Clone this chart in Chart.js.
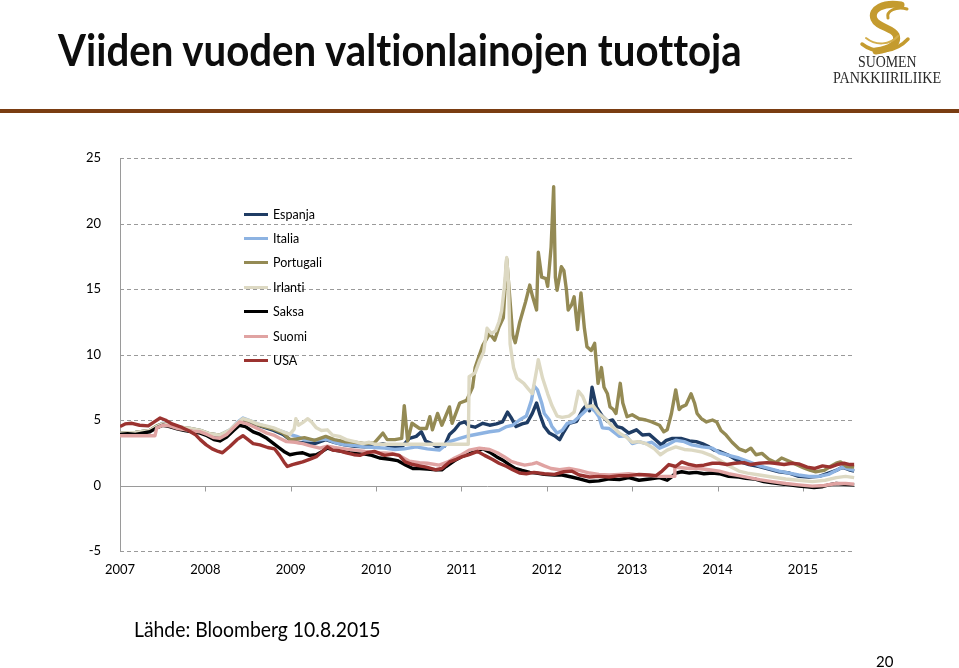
<!DOCTYPE html>
<html><head><meta charset="utf-8">
<script src="https://cdn.jsdelivr.net/npm/chart.js@4/dist/chart.umd.min.js"></script>
<style>
html,body{margin:0;padding:0;background:#fff;}
body{width:959px;height:668px;position:relative;overflow:hidden;font-family:Lato,sans-serif;font-variant-ligatures:none;font-feature-settings:"liga" 0;}
#c{position:absolute;left:0;top:0;}
.fit{position:absolute;white-space:nowrap;transform-origin:0 0;}
#title{left:58px;top:28px;font-size:43px;font-weight:700;line-height:43px;color:#0d0d0d;}
#rule{position:absolute;left:0;top:109px;width:959px;height:4px;background:#7a3d12;}
#source{left:134px;top:618px;font-size:21px;line-height:21px;color:#000;}
#page{left:876px;top:654px;font-size:15px;line-height:15px;color:#000;}
.logo-t{font-family:"Liberation Serif",serif;font-size:16px;line-height:16px;color:#2a2a2a;}
#legend{position:absolute;left:240px;top:204px;}
.leg{position:absolute;left:0;height:20px;display:flex;align-items:center;font-size:12.5px;color:#000;white-space:nowrap;}
.sw{display:inline-block;width:24px;height:3px;margin-left:4px;margin-right:5px;}
</style></head>
<body>
<canvas id="c" width="959" height="668"></canvas>
<div id="title" class="fit" data-w="684">Viiden vuoden valtionlainojen tuottoja</div>
<svg style="position:absolute;left:846px;top:0" width="80" height="58" viewBox="0 0 80 58">
  <path d="M55 5 C38 2 24 9 28 19 C31 27 47 28 50 35 C53 43 45 49 30 51" fill="none" stroke="#c49b2f" stroke-width="7" stroke-linecap="round"/>
  <path d="M61 9 C50 6 40 11 42 18" fill="none" stroke="#c49b2f" stroke-width="3" stroke-linecap="round"/>
  <path d="M16 44 C30 55 50 52 62 39" fill="none" stroke="#c49b2f" stroke-width="3.5" stroke-linecap="round"/>
  <path d="M20 38 C30 46 44 45 52 36" fill="none" stroke="#d3ae4c" stroke-width="2" stroke-linecap="round"/>
</svg>
<div id="logo1" class="fit logo-t" data-w="59" data-cx="887" style="top:54px">SUOMEN</div>
<div id="logo2" class="fit logo-t" data-w="108" data-cx="887" style="top:70px">PANKKIIRILIIKE</div>
<div id="rule"></div>
<div id="legend"></div>
<div id="source" class="fit" data-w="247">Lähde: Bloomberg 10.8.2015</div>
<div id="page" class="fit">20</div>
<script>
// ---- data (decimal year, yield %) ----
const seriesNames = ['Espanja','Italia','Portugali','Irlanti','Saksa','Suomi','USA'];
const yearLabels = ['2007','2008','2009','2010','2011','2012','2013','2014','2015'];

const espanja = [[2007.00,4.0],[2007.18,4.05],[2007.35,4.2],[2007.43,4.5],[2007.50,4.7],[2007.61,4.6],[2007.70,4.4],[2007.82,4.3],[2007.94,4.15],[2008.05,3.85],[2008.17,3.75],[2008.29,4.1],[2008.37,4.6],[2008.44,5.0],[2008.52,4.8],[2008.61,4.6],[2008.71,4.4],[2008.80,4.2],[2008.91,3.9],[2008.99,3.5],[2009.07,3.3],[2009.16,3.25],[2009.28,3.2],[2009.41,3.5],[2009.51,3.3],[2009.63,3.1],[2009.75,3.0],[2009.87,2.95],[2009.98,3.0],[2010.08,3.2],[2010.19,2.95],[2010.31,3.0],[2010.39,3.6],[2010.47,3.75],[2010.53,4.1],[2010.58,3.4],[2010.65,3.2],[2010.71,2.95],[2010.80,3.0],[2010.86,3.9],[2010.92,4.25],[2010.98,4.75],[2011.04,4.85],[2011.09,4.55],[2011.16,4.45],[2011.25,4.75],[2011.33,4.6],[2011.41,4.7],[2011.48,4.85],[2011.54,5.6],[2011.58,5.2],[2011.64,4.5],[2011.71,4.7],[2011.77,4.8],[2011.83,5.5],[2011.88,6.3],[2011.92,5.4],[2011.97,4.5],[2012.03,4.0],[2012.09,3.8],[2012.15,3.5],[2012.20,4.1],[2012.26,4.75],[2012.35,4.9],[2012.42,5.8],[2012.46,6.1],[2012.50,5.7],[2012.53,7.5],[2012.58,6.0],[2012.61,5.7],[2012.65,5.3],[2012.71,4.9],[2012.77,5.0],[2012.82,4.5],[2012.88,4.4],[2012.96,4.0],[2013.05,4.25],[2013.12,3.85],[2013.20,3.9],[2013.28,3.45],[2013.34,3.1],[2013.40,3.45],[2013.47,3.6],[2013.57,3.6],[2013.67,3.4],[2013.75,3.35],[2013.82,3.2],[2013.90,2.95],[2013.96,2.7],[2014.02,2.6],[2014.13,2.3],[2014.25,1.85],[2014.37,1.6],[2014.49,1.45],[2014.60,1.25],[2014.72,1.05],[2014.84,0.95],[2014.95,0.7],[2015.07,0.65],[2015.19,0.7],[2015.30,0.95],[2015.39,1.15],[2015.46,1.4],[2015.54,1.2],[2015.60,1.1]];

const italia = [[2007.00,3.95],[2007.18,4.0],[2007.35,4.15],[2007.43,4.5],[2007.50,4.75],[2007.61,4.65],[2007.70,4.45],[2007.82,4.35],[2007.94,4.2],[2008.05,3.95],[2008.17,3.85],[2008.29,4.25],[2008.37,4.8],[2008.44,5.15],[2008.52,4.95],[2008.61,4.7],[2008.71,4.5],[2008.80,4.35],[2008.91,4.1],[2008.99,3.9],[2009.07,3.75],[2009.16,3.5],[2009.28,3.45],[2009.41,3.55],[2009.51,3.3],[2009.63,3.1],[2009.75,3.05],[2009.87,2.95],[2009.98,2.9],[2010.10,2.85],[2010.22,2.75],[2010.33,2.8],[2010.47,2.95],[2010.60,2.8],[2010.74,2.7],[2010.86,3.35],[2010.98,3.6],[2011.09,3.8],[2011.21,3.95],[2011.33,4.1],[2011.44,4.2],[2011.53,4.5],[2011.60,4.6],[2011.68,5.0],[2011.76,5.3],[2011.82,6.5],[2011.85,7.6],[2011.89,7.3],[2011.94,6.3],[2011.97,5.5],[2012.03,5.0],[2012.06,4.5],[2012.12,4.0],[2012.18,4.2],[2012.24,4.75],[2012.32,4.9],[2012.42,5.5],[2012.50,6.0],[2012.56,5.7],[2012.61,5.25],[2012.65,4.4],[2012.73,4.35],[2012.85,3.75],[2012.93,3.8],[2013.00,3.2],[2013.08,3.35],[2013.16,3.2],[2013.23,3.3],[2013.32,2.85],[2013.41,3.1],[2013.51,3.45],[2013.61,3.35],[2013.70,3.1],[2013.82,2.95],[2013.94,2.85],[2014.02,2.5],[2014.13,2.3],[2014.25,2.1],[2014.37,1.8],[2014.49,1.5],[2014.60,1.3],[2014.72,1.1],[2014.84,0.95],[2014.95,0.8],[2015.07,0.7],[2015.19,0.7],[2015.30,0.85],[2015.39,1.15],[2015.46,1.4],[2015.54,1.25],[2015.60,1.15]];

const portugali = [[2007.00,4.0],[2007.18,4.05],[2007.35,4.2],[2007.43,4.55],[2007.50,4.7],[2007.61,4.6],[2007.70,4.45],[2007.82,4.35],[2007.94,4.2],[2008.05,3.95],[2008.17,3.85],[2008.29,4.2],[2008.37,4.7],[2008.44,5.05],[2008.52,4.9],[2008.61,4.65],[2008.71,4.45],[2008.80,4.3],[2008.91,4.0],[2008.99,3.5],[2009.07,3.55],[2009.16,3.65],[2009.28,3.45],[2009.41,3.75],[2009.51,3.5],[2009.63,3.35],[2009.75,3.3],[2009.87,3.2],[2009.98,3.25],[2010.08,4.0],[2010.13,3.5],[2010.22,3.5],[2010.30,3.6],[2010.33,6.1],[2010.37,3.4],[2010.42,4.75],[2010.51,4.35],[2010.59,4.35],[2010.63,5.25],[2010.66,4.25],[2010.72,5.5],[2010.77,4.6],[2010.86,6.0],[2010.89,4.75],[2010.98,6.3],[2011.06,6.5],[2011.13,7.5],[2011.16,9.0],[2011.25,10.7],[2011.33,11.6],[2011.39,11.1],[2011.44,12.1],[2011.49,12.8],[2011.53,17.3],[2011.57,14.0],[2011.60,11.5],[2011.63,10.9],[2011.68,12.4],[2011.75,14.0],[2011.80,15.3],[2011.83,14.5],[2011.88,13.4],[2011.90,17.8],[2011.94,15.9],[2011.99,15.8],[2012.01,15.2],[2012.05,18.2],[2012.08,22.8],[2012.10,15.9],[2012.12,14.9],[2012.17,16.7],[2012.20,16.4],[2012.23,14.9],[2012.25,13.4],[2012.29,13.8],[2012.32,14.4],[2012.36,11.9],[2012.40,14.7],[2012.44,12.0],[2012.47,10.6],[2012.52,10.3],[2012.56,10.85],[2012.60,7.8],[2012.64,9.0],[2012.67,7.5],[2012.71,7.0],[2012.74,6.0],[2012.78,5.8],[2012.81,5.5],[2012.86,7.8],[2012.89,6.3],[2012.94,5.25],[2013.00,5.4],[2013.08,5.1],[2013.16,5.0],[2013.23,4.85],[2013.32,4.6],[2013.37,4.1],[2013.41,4.25],[2013.46,5.5],[2013.51,7.3],[2013.55,5.8],[2013.58,6.0],[2013.63,6.15],[2013.69,7.0],[2013.73,6.3],[2013.76,5.5],[2013.81,5.1],[2013.87,4.85],[2013.94,5.0],[2013.99,4.85],[2014.04,4.2],[2014.10,3.85],[2014.17,3.3],[2014.25,2.8],[2014.33,2.6],[2014.39,2.85],[2014.45,2.35],[2014.52,2.45],[2014.60,2.0],[2014.68,1.75],[2014.75,2.1],[2014.84,1.85],[2014.92,1.6],[2015.01,1.35],[2015.09,1.15],[2015.15,1.05],[2015.25,1.15],[2015.32,1.45],[2015.39,1.7],[2015.44,1.8],[2015.51,1.45],[2015.60,1.4]];

const irlanti = [[2007.00,4.0],[2007.18,4.05],[2007.35,4.2],[2007.43,4.5],[2007.50,4.7],[2007.61,4.6],[2007.70,4.45],[2007.82,4.35],[2007.94,4.2],[2008.05,3.95],[2008.17,3.85],[2008.29,4.25],[2008.37,4.75],[2008.44,5.1],[2008.52,4.95],[2008.61,4.7],[2008.71,4.55],[2008.80,4.4],[2008.91,4.1],[2008.99,3.9],[2009.04,4.3],[2009.06,5.1],[2009.09,4.6],[2009.14,4.8],[2009.20,5.1],[2009.25,4.8],[2009.30,4.4],[2009.36,4.2],[2009.43,4.25],[2009.49,3.85],[2009.57,3.75],[2009.65,3.5],[2009.75,3.35],[2009.84,3.2],[2009.92,3.3],[2009.98,3.15],[2011.08,3.15],[2011.09,8.3],[2011.16,8.6],[2011.21,9.5],[2011.26,10.2],[2011.30,12.0],[2011.35,11.6],[2011.40,11.8],[2011.44,12.5],[2011.47,13.3],[2011.50,15.0],[2011.53,17.4],[2011.55,15.5],[2011.57,10.8],[2011.61,9.0],[2011.65,8.2],[2011.73,7.8],[2011.78,7.4],[2011.83,7.0],[2011.88,8.8],[2011.90,9.6],[2011.95,8.2],[2012.01,7.0],[2012.06,6.1],[2012.12,5.3],[2012.18,5.2],[2012.26,5.3],[2012.32,5.6],[2012.37,7.2],[2012.42,6.8],[2012.47,6.0],[2012.54,6.1],[2012.61,5.5],[2012.70,5.0],[2012.77,4.5],[2012.85,4.0],[2012.93,3.7],[2013.00,3.3],[2013.08,3.35],[2013.16,3.2],[2013.26,2.8],[2013.33,2.35],[2013.41,2.7],[2013.51,2.95],[2013.61,2.75],[2013.70,2.7],[2013.82,2.55],[2013.92,2.3],[2014.02,1.95],[2014.13,1.5],[2014.25,1.1],[2014.35,0.95],[2014.49,0.8],[2014.64,0.65],[2014.80,0.5],[2014.95,0.4],[2015.11,0.3],[2015.26,0.4],[2015.39,0.6],[2015.50,0.7],[2015.60,0.6]];

const saksa = [[2007.00,3.9],[2007.09,3.95],[2007.18,3.9],[2007.26,4.0],[2007.35,4.1],[2007.43,4.4],[2007.50,4.6],[2007.58,4.5],[2007.68,4.3],[2007.76,4.2],[2007.85,4.1],[2007.94,4.0],[2008.02,3.8],[2008.10,3.5],[2008.17,3.4],[2008.25,3.7],[2008.33,4.2],[2008.40,4.6],[2008.47,4.5],[2008.56,4.1],[2008.64,3.9],[2008.72,3.6],[2008.80,3.2],[2008.86,2.9],[2008.92,2.6],[2008.99,2.35],[2009.07,2.45],[2009.14,2.5],[2009.22,2.3],[2009.30,2.35],[2009.37,2.6],[2009.43,2.85],[2009.51,2.7],[2009.60,2.6],[2009.69,2.5],[2009.77,2.45],[2009.87,2.4],[2009.95,2.3],[2010.04,2.1],[2010.16,2.0],[2010.25,1.9],[2010.35,1.55],[2010.43,1.3],[2010.51,1.3],[2010.60,1.25],[2010.70,1.2],[2010.77,1.2],[2010.82,1.45],[2010.92,1.9],[2011.00,2.2],[2011.07,2.35],[2011.15,2.6],[2011.25,2.8],[2011.33,2.55],[2011.41,2.2],[2011.48,1.95],[2011.56,1.6],[2011.63,1.3],[2011.71,1.15],[2011.80,1.0],[2011.88,0.95],[2011.97,0.85],[2012.09,0.8],[2012.18,0.8],[2012.29,0.65],[2012.38,0.5],[2012.50,0.3],[2012.61,0.35],[2012.73,0.5],[2012.85,0.45],[2012.96,0.6],[2013.08,0.4],[2013.20,0.5],[2013.32,0.6],[2013.41,0.4],[2013.47,0.7],[2013.51,0.95],[2013.58,1.05],[2013.67,0.95],[2013.75,1.0],[2013.84,0.9],[2013.94,0.95],[2014.02,0.9],[2014.13,0.7],[2014.25,0.65],[2014.33,0.55],[2014.43,0.5],[2014.54,0.3],[2014.64,0.2],[2014.78,0.1],[2014.95,-0.05],[2015.05,-0.1],[2015.13,-0.15],[2015.22,-0.1],[2015.30,0.05],[2015.39,0.15],[2015.48,0.1],[2015.60,0.05]];

const suomi = [[2007.00,3.8],[2007.41,3.8],[2007.43,4.4],[2007.50,4.6],[2007.58,4.55],[2007.68,4.35],[2007.77,4.25],[2007.85,4.15],[2007.94,4.1],[2008.02,3.9],[2008.10,3.65],[2008.17,3.6],[2008.25,3.9],[2008.33,4.4],[2008.40,4.85],[2008.49,4.7],[2008.56,4.5],[2008.64,4.25],[2008.72,4.0],[2008.80,3.85],[2008.87,3.6],[2008.95,3.35],[2009.05,3.3],[2009.14,3.2],[2009.22,3.05],[2009.34,2.85],[2009.43,3.0],[2009.51,2.9],[2009.63,2.8],[2009.75,2.7],[2009.87,2.6],[2009.95,2.55],[2010.04,2.5],[2010.19,2.45],[2010.27,2.3],[2010.39,1.85],[2010.51,1.75],[2010.60,1.7],[2010.74,1.55],[2010.84,1.8],[2010.92,2.1],[2011.00,2.35],[2011.09,2.7],[2011.21,2.85],[2011.33,2.75],[2011.42,2.5],[2011.50,2.2],[2011.58,1.85],[2011.65,1.7],[2011.74,1.55],[2011.83,1.65],[2011.88,1.75],[2011.97,1.5],[2012.05,1.3],[2012.15,1.2],[2012.26,1.3],[2012.38,1.15],[2012.50,0.95],[2012.61,0.85],[2012.73,0.8],[2012.85,0.85],[2012.96,0.9],[2013.08,0.8],[2013.20,0.75],[2013.32,0.7],[2013.49,0.7],[2013.50,1.4],[2013.58,1.35],[2013.67,1.3],[2013.78,1.3],[2013.90,1.2],[2014.02,1.1],[2014.13,0.9],[2014.25,0.75],[2014.37,0.6],[2014.49,0.45],[2014.64,0.3],[2014.80,0.15],[2014.95,0.05],[2015.11,-0.05],[2015.25,0.0],[2015.39,0.15],[2015.50,0.15],[2015.60,0.1]];

const usa = [[2007.00,4.5],[2007.06,4.7],[2007.14,4.75],[2007.23,4.6],[2007.33,4.55],[2007.41,4.9],[2007.47,5.15],[2007.53,5.0],[2007.61,4.7],[2007.70,4.5],[2007.80,4.2],[2007.88,3.9],[2007.94,3.5],[2008.01,3.1],[2008.08,2.8],[2008.15,2.6],[2008.20,2.5],[2008.29,3.0],[2008.37,3.5],[2008.44,3.8],[2008.50,3.5],[2008.56,3.2],[2008.64,3.1],[2008.73,2.9],[2008.81,2.8],[2008.87,2.3],[2008.92,1.8],[2008.96,1.45],[2009.02,1.6],[2009.08,1.7],[2009.14,1.8],[2009.22,2.0],[2009.30,2.2],[2009.37,2.6],[2009.43,2.95],[2009.49,2.7],[2009.57,2.65],[2009.65,2.5],[2009.74,2.35],[2009.81,2.3],[2009.89,2.5],[2009.98,2.6],[2010.10,2.3],[2010.19,2.4],[2010.27,2.3],[2010.34,1.8],[2010.43,1.6],[2010.51,1.5],[2010.59,1.4],[2010.70,1.2],[2010.77,1.3],[2010.86,1.8],[2010.94,2.0],[2011.01,2.2],[2011.09,2.35],[2011.19,2.6],[2011.27,2.3],[2011.36,2.0],[2011.44,1.7],[2011.53,1.45],[2011.60,1.2],[2011.68,0.95],[2011.76,0.9],[2011.85,1.0],[2011.97,0.9],[2012.09,0.85],[2012.20,1.05],[2012.29,1.1],[2012.38,0.8],[2012.50,0.65],[2012.61,0.7],[2012.73,0.65],[2012.85,0.75],[2012.96,0.75],[2013.08,0.85],[2013.20,0.8],[2013.28,0.75],[2013.35,1.1],[2013.43,1.6],[2013.51,1.45],[2013.58,1.8],[2013.67,1.6],[2013.75,1.5],[2013.84,1.55],[2013.94,1.7],[2014.02,1.7],[2014.11,1.6],[2014.20,1.7],[2014.31,1.75],[2014.39,1.6],[2014.49,1.7],[2014.58,1.75],[2014.67,1.7],[2014.78,1.6],[2014.87,1.7],[2014.95,1.65],[2015.05,1.4],[2015.14,1.3],[2015.23,1.5],[2015.32,1.4],[2015.40,1.6],[2015.48,1.7],[2015.55,1.6],[2015.60,1.6]];

const allSeries = [espanja, italia, portugali, irlanti, saksa, suomi, usa];
const colors = ['#1f3c64','#8db3e2','#948a54','#ddd9c3','#000000','#e0a3a2','#9b3330'];

// ---- layout helpers ----
function fitAll(){
  document.querySelectorAll('.fit').forEach(el=>{
    const tw = +el.dataset.w;
    if(tw){
      const w = el.scrollWidth;
      el.style.transform = 'scaleX(' + (tw / w) + ')';
      if(el.dataset.cx){ el.style.left = (+el.dataset.cx - tw/2) + 'px'; }
    }
  });
}
const leg = document.getElementById('legend');
seriesNames.forEach((n,i)=>{
  const d = document.createElement('div');
  d.className='leg';
  d.style.top = (i*24.4) + 'px';
  d.innerHTML = '<span class="sw" style="background:'+colors[i]+'"></span>'+n;
  leg.appendChild(d);
});

const gridPlugin = {
  id:'gridlines',
  beforeDatasetsDraw(chart){
    const {ctx, chartArea:a, scales:{x,y}} = chart;
    ctx.save();
    ctx.strokeStyle = '#9a9a9a';
    ctx.lineWidth = 1;
    y.ticks.forEach(t=>{
      const py = Math.round(y.getPixelForValue(t.value)) + 0.5;
      ctx.setLineDash(t.value === 0 ? [] : [4,3]);
      ctx.beginPath(); ctx.moveTo(a.left, py); ctx.lineTo(a.right, py); ctx.stroke();
    });
    ctx.setLineDash([]);
    ctx.beginPath(); ctx.moveTo(a.left+0.5, a.top); ctx.lineTo(a.left+0.5, a.bottom); ctx.stroke();
    const y0 = Math.round(y.getPixelForValue(0)) + 0.5;
    x.ticks.forEach(t=>{
      const px = Math.round(x.getPixelForValue(t.value)) + 0.5;
      ctx.beginPath(); ctx.moveTo(px, y0); ctx.lineTo(px, y0+5); ctx.stroke();
    });
    ctx.restore();
  }
};

function draw(){
  fitAll();
  new Chart(document.getElementById('c'), {
    type:'line',
    data:{
      datasets: allSeries.map((s,i)=>({
        label: seriesNames[i],
        data: s.map(p=>({x:p[0], y:p[1]})),
        borderColor: colors[i],
        backgroundColor: colors[i],
        borderWidth: 3.4,
        pointRadius: 0,
        tension: 0,
        fill: false,
        order: allSeries.length - i,
        borderJoinStyle: 'round'
      }))
    },
    options:{
      responsive:false,
      animation:false,
      events:[],
      layout:{padding:{left:0, top:158, right:104, bottom:87}},
      plugins:{legend:{display:false}, tooltip:{enabled:false}},
      scales:{
        x:{
          type:'linear', min:2007, max:2015.61,
          afterFit(s){ s.height = 30; },
          grid:{display:false}, border:{display:false},
          ticks:{
            stepSize:1, includeBounds:false, autoSkip:false, maxRotation:0, padding:3,
            color:'#000', font:{family:'Lato', size:13},
            callback:(v)=>{ const i = Math.round(v) - 2007; return (Math.abs(v-Math.round(v))<1e-6 && yearLabels[i]) ? yearLabels[i] : ''; }
          }
        },
        y:{
          min:-5, max:25,
          afterFit(s){ s.width = 120; },
          grid:{display:false}, border:{display:false},
          ticks:{stepSize:5, padding:11, color:'#000', font:{family:'Lato', size:13}}
        }
      }
    },
    plugins:[gridPlugin]
  });
}
if(document.fonts && document.fonts.ready){ document.fonts.ready.then(draw); } else { draw(); }
</script>
</body></html>
